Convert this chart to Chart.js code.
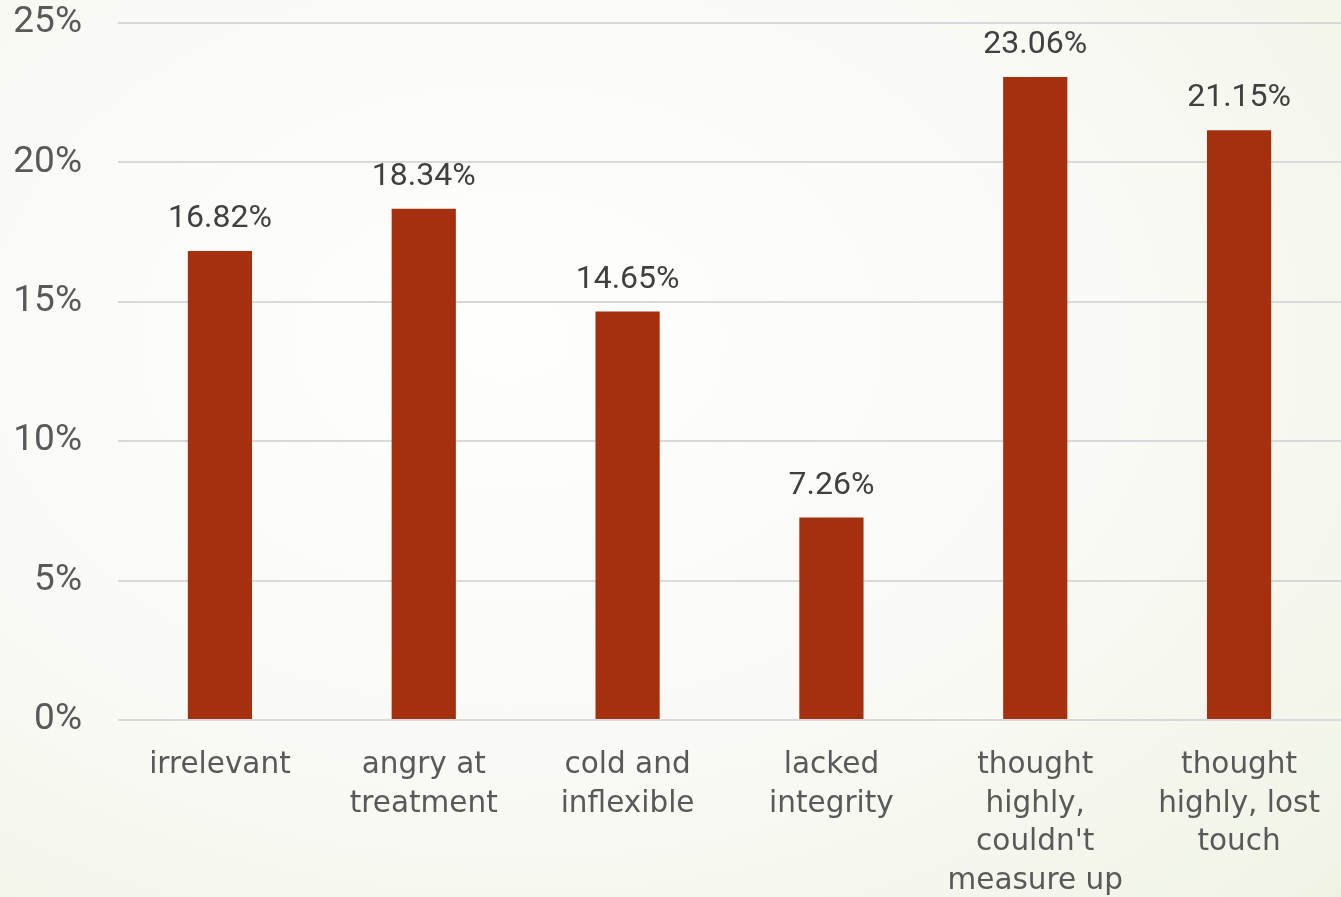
<!DOCTYPE html>
<html>
<head>
<meta charset="utf-8">
<script src="https://cdn.jsdelivr.net/npm/chart.js@4/dist/chart.umd.min.js"></script>
<style>
  html, body { margin: 0; padding: 0; }
  body {
    width: 1341px; height: 897px; overflow: hidden;
    background: radial-gradient(ellipse 115% 120% at 38% 38%, #fefefc 0%, #f9faf5 40%, #f1f4e7 70%, #e4ead0 100%);
  }
  #wrap { width: 1341px; height: 897px; position: relative; }
</style>
</head>
<body>
<div id="wrap"><canvas id="c"></canvas></div>
<script>
const categories = [
  ["irrelevant"],
  ["angry at", "treatment"],
  ["cold and", "inflexible"],
  ["lacked", "integrity"],
  ["thought", "highly,", "couldn't", "measure up"],
  ["thought", "highly, lost", "touch"]
];
const values = [16.82, 18.34, 14.65, 7.26, 23.06, 21.15];
const yTicks = [0, 5, 10, 15, 20, 25];

const valueLabels = {
  id: 'valueLabels',
  afterDatasetsDraw(chart) {
    const ctx = chart.ctx;
    const meta = chart.getDatasetMeta(0);
    ctx.save();
    ctx.font = '32px Roboto';
    ctx.fillStyle = '#404040';
    ctx.textAlign = 'center';
    ctx.textBaseline = 'middle';
    meta.data.forEach((bar, i) => {
      ctx.fillText(values[i].toFixed(2) + '%', bar.x, bar.y - 32);
    });
    ctx.restore();
  }
};

new Chart(document.getElementById('c'), {
  type: 'bar',
  data: {
    labels: categories,
    datasets: [{
      data: values,
      backgroundColor: '#A53010',
      borderWidth: 0,
      barPercentage: 0.63,
      categoryPercentage: 0.5
    }]
  },
  options: {
    responsive: true,
    maintainAspectRatio: false,
    animation: false,
    layout: { padding: { top: 23, right: 0, bottom: 0, left: 0 } },
    plugins: { legend: { display: false }, tooltip: { enabled: false } },
    scales: {
      x: {
        grid: { display: false, drawTicks: false },
        border: { display: false },
        ticks: {
          color: '#595959',
          font: { family: 'DejaVu Sans', size: 29.5, lineHeight: 1.31 },
          padding: 26,
          maxRotation: 0,
          autoSkip: false
        },
        afterFit(scale) { scale.height = 177; scale.paddingLeft = 0; scale.paddingRight = 0; }
      },
      y: {
        min: 0, max: 25,
        afterBuildTicks(scale) { scale.ticks = yTicks.map(v => ({ value: v })); },
        grid: { color: '#d9d9d9', lineWidth: 2, drawTicks: false },
        border: { display: false },
        ticks: {
          color: '#595959',
          font: { family: 'Roboto', size: 37 },
          padding: 36,
          callback: v => v + '%'
        },
        afterFit(scale) { scale.width = 118; scale.paddingTop = 0; scale.paddingBottom = 0; }
      }
    }
  },
  plugins: [valueLabels]
});
</script>
</body>
</html>
